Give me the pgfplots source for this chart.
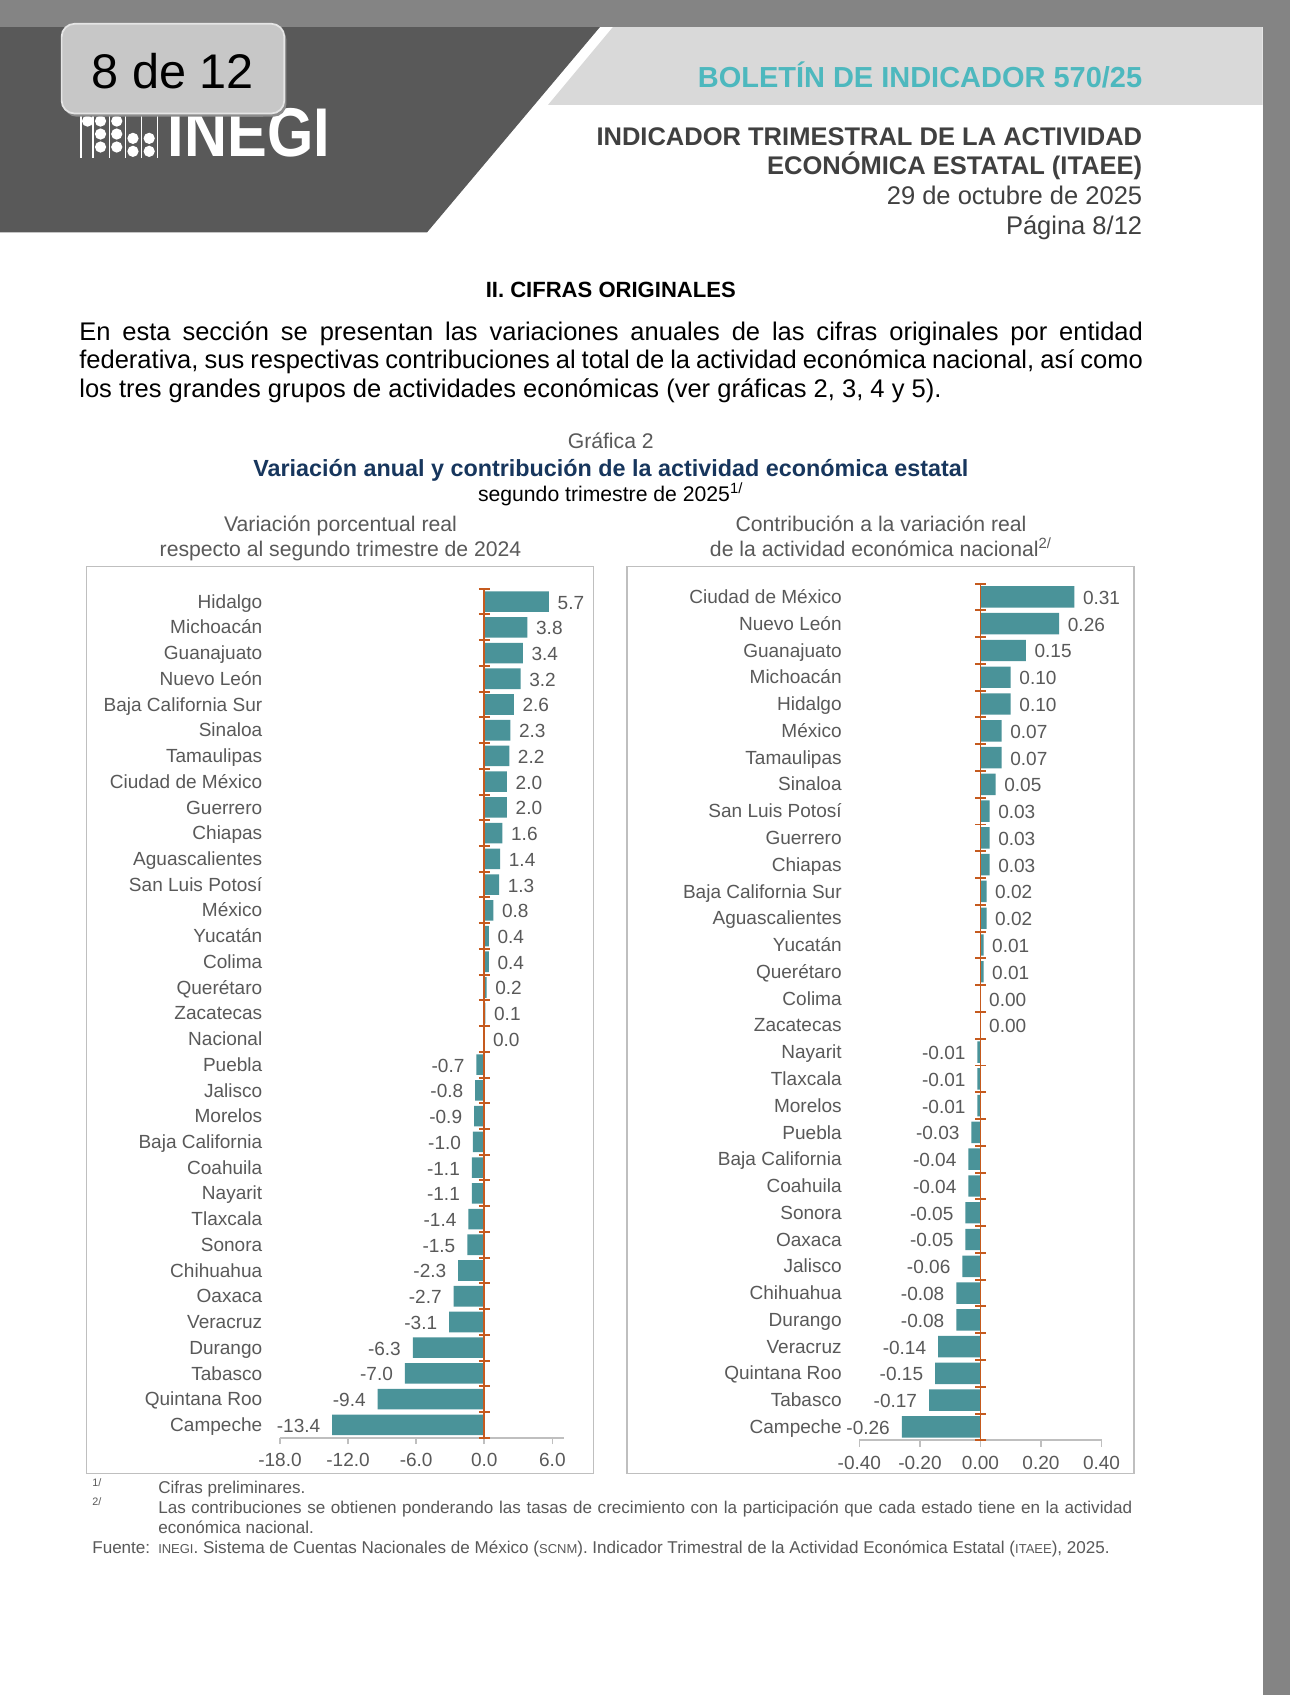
\documentclass[border=0pt]{standalone}
\usepackage{fontspec}
\setmainfont{Liberation Sans}
\usepackage{pgfplots}
\pgfplotsset{compat=1.18}

\definecolor{barteal}{RGB}{74,147,153}
\definecolor{axorange}{RGB}{197,90,30}
\definecolor{axgray}{RGB}{191,191,191}
\definecolor{labgray}{RGB}{89,89,89}
\definecolor{titlenavy}{RGB}{23,54,93}
\definecolor{headteal}{RGB}{77,184,190}
\definecolor{headdark}{RGB}{89,89,89}
\definecolor{headlight}{RGB}{217,217,217}
\definecolor{pagegray}{RGB}{132,132,132}
\definecolor{textdark}{RGB}{64,64,64}

\newcommand\fs[2]{\fontsize{#1}{#2}\selectfont}

\begin{document}
\begin{tikzpicture}
\useasboundingbox (0,0) rectangle (596.5pt,-784pt);

\begin{scope}[x=0.5pt,y=-0.5pt]
  % page and header
  \fill[pagegray] (0,0) rectangle (1193,1568);
  \fill[white] (0,25) rectangle (1168,1568);
  \fill[headdark] (0,25) -- (555,25) -- (395,215) -- (0,215) -- cycle;
  \fill[headlight] (567,25) -- (1168,25) -- (1168,97) -- (507,97) -- cycle;

  % logo
  \foreach \lx in {75,86,101,116,131,146}
    \draw[white, line width=0.6pt] (\lx,104) -- (\lx,146);
  \foreach \cx/\cy in {81/112,93/112,108/112,93/124,108/124,93/136,108/136,123/128,138/128,123/140,138/140}
    \fill[white] (\cx,\cy) circle (2.6pt);
  \node[anchor=base west, inner sep=0, text=white, font=\fs{29}{30}\bfseries, xscale=0.95, yscale=1.1] at (155,145) {INEGI};

  % page badge
  \fill[black!45, rounded corners=6pt] (59,25) rectangle (265,108);
  \fill[black!22, draw=black!10, line width=0.8pt, rounded corners=6pt] (57,22) rectangle (263,105);
  \node[font=\fs{22.5}{24}, text=black] at (160,66) {8 de 12};

  \node[anchor=base east, inner sep=0, text=headteal, font=\fs{13.4}{15}\bfseries] at (1057,81) {BOLETÍN DE INDICADOR 570/25};
  \node[anchor=base east, inner sep=0, text=textdark, font=\fs{11.8}{13}\bfseries] at (1057,134.5) {INDICADOR TRIMESTRAL DE LA ACTIVIDAD};
  \node[anchor=base east, inner sep=0, text=textdark, font=\fs{11.8}{13}\bfseries] at (1057,161.5) {ECONÓMICA ESTATAL (ITAEE)};
  \node[anchor=base east, inner sep=0, text=textdark, font=\fs{11.8}{13}] at (1057,189.5) {29 de octubre de 2025};
  \node[anchor=base east, inner sep=0, text=textdark, font=\fs{11.8}{13}] at (1057,216.5) {Página 8/12};

  % section text
  \node[anchor=base, inner sep=0, font=\fs{10.2}{12}\bfseries] at (565,275) {II. CIFRAS ORIGINALES};
  \node[anchor=base west, inner sep=0, font=\fs{11.8}{13}] at (73,315)
    {\makebox[492pt][s]{En esta sección se presentan las variaciones anuales de las cifras originales por entidad}};
  \node[anchor=base west, inner sep=0, font=\fs{11.8}{13}] at (73,341)
    {\makebox[492pt][s]{federativa, sus respectivas contribuciones al total de la actividad económica nacional, así como}};
  \node[anchor=base west, inner sep=0, font=\fs{11.8}{13}] at (73,368)
    {los tres grandes grupos de actividades económicas (ver gráficas 2, 3, 4 y 5).};

  % chart titles
  \node[anchor=base, inner sep=0, text=labgray, font=\fs{9.8}{11}] at (565,415) {Gráfica 2};
  \node[anchor=base, inner sep=0, text=titlenavy, font=\fs{10.8}{12}\bfseries] at (565,441)
    {Variación anual y contribución de la actividad económica estatal};
  \node[anchor=base, inner sep=0, font=\fs{9.8}{11}] at (565,464) {segundo trimestre de 2025\textsuperscript{1/}};
  \node[anchor=base, inner sep=0, text=labgray, font=\fs{9.8}{11}] at (315,492) {Variación porcentual real};
  \node[anchor=base, inner sep=0, text=labgray, font=\fs{9.8}{11}] at (315,515) {respecto al segundo trimestre de 2024};
  \node[anchor=base, inner sep=0, text=labgray, font=\fs{9.8}{11}] at (815,492) {Contribución a la variación real};
  \node[anchor=base, inner sep=0, text=labgray, font=\fs{9.8}{11}] at (815,515) {de la actividad económica nacional\textsuperscript{2/}};

  % panel frames
  \draw[axgray, line width=0.6pt] (80,524) rectangle (549,1363);
  \draw[axgray, line width=0.6pt] (580,524) rectangle (1049,1363);

  % notes
  \node[anchor=base west, inner sep=0, text=labgray, font=\fs{5}{6}] at (85,1375) {1/};
  \node[anchor=base west, inner sep=0, text=labgray, font=\fs{7.9}{9}] at (146,1382) {Cifras preliminares.};
  \node[anchor=base west, inner sep=0, text=labgray, font=\fs{5}{6}] at (85,1393) {2/};
  \node[anchor=base west, inner sep=0, text=labgray, font=\fs{7.9}{9}] at (146,1400)
    {\makebox[450.5pt][s]{Las contribuciones se obtienen ponderando las tasas de crecimiento con la participación que cada estado tiene en la actividad}};
  \node[anchor=base west, inner sep=0, text=labgray, font=\fs{7.9}{9}] at (146,1419) {económica nacional.};
  \node[anchor=base west, inner sep=0, text=labgray, font=\fs{7.9}{9}] at (85,1437) {Fuente:};
  \node[anchor=base west, inner sep=0, text=labgray, font=\fs{7.9}{9}] at (146,1437)
    {{\fs{6}{7}INEGI}. Sistema de Cuentas Nacionales de México ({\fs{6}{7}SCNM}). Indicador Trimestral de la Actividad Económica Estatal ({\fs{6}{7}ITAEE}), 2025.};
\end{scope}

\pgfplotsset{
  panel/.style={
    scale only axis, anchor=south west, clip=false,
    axis x line*=bottom, axis y line*=left,
    x axis line style={-, draw=axgray, line width=0.8pt},
    y axis line style={draw=none},
    tick align=outside, major tick length=3pt,
    xtick style={draw=axgray, line width=0.8pt},
    ytick style={draw=none},
    tick label style={font=\fs{8.8}{10}, text=labgray},
    xticklabel style={inner sep=0pt, yshift=-4pt},
    yticklabel style={inner sep=0pt, xshift=-5pt, yshift=-0.8pt, text height=6.4pt, text depth=1.9pt},
    point meta=x,
    every node near coord/.append style={font=\fs{8.8}{10}, text=labgray, text height=6.4pt, text depth=1.9pt, yshift=-1.2pt},
  },
  posbar/.style={xbar, bar shift=0pt, bar width=0.8, fill=barteal, draw=none,
    nodes near coords={\pgfmathprintnumber[fixed,fixed zerofill,precision=#1,assume math mode=true]{\pgfplotspointmeta}},
    nodes near coords style={anchor=west, xshift=0.5pt}},
  negbar/.style={xbar, bar shift=0pt, bar width=0.8, fill=barteal, draw=none,
    nodes near coords={\pgfmathprintnumber[fixed,fixed zerofill,precision=#1,assume math mode=true]{\pgfplotspointmeta}},
    nodes near coords style={anchor=east, xshift=-2pt}},
}

% left panel: annual variation
\begin{axis}[panel,
  at={(129.5pt,-665pt)}, width=131.25pt, height=392.7pt,
  xmin=-18, xmax=7, ymin=-0.5, ymax=32.5,
  xtick={-18,-12,-6,0,6},
  xticklabel style={/pgf/number format/.cd, fixed, fixed zerofill, precision=1, assume math mode=true},
  ytick={0,...,32},
  yticklabels={Campeche,Quintana Roo,Tabasco,Durango,Veracruz,Oaxaca,Chihuahua,Sonora,Tlaxcala,Nayarit,Coahuila,Baja California,Morelos,Jalisco,Puebla,Nacional,Zacatecas,Querétaro,Colima,Yucatán,México,San Luis Potosí,Aguascalientes,Chiapas,Guerrero,Ciudad de México,Tamaulipas,Sinaloa,Baja California Sur,Nuevo León,Guanajuato,Michoacán,Hidalgo},
]
\addplot[posbar=1] coordinates {
  (5.7,32) (3.8,31) (3.4,30) (3.2,29) (2.6,28) (2.3,27) (2.2,26) (2.0,25) (2.0,24)
  (1.6,23) (1.4,22) (1.3,21) (0.8,20) (0.4,19) (0.4,18) (0.2,17) (0.1,16) (0.0,15)
};
\addplot[negbar=1] coordinates {
  (-0.7,14) (-0.8,13) (-0.9,12) (-1.0,11) (-1.1,10) (-1.1,9) (-1.4,8) (-1.5,7)
  (-2.3,6) (-2.7,5) (-3.1,4) (-6.3,3) (-7.0,2) (-9.4,1) (-13.4,0)
};
\draw[axorange, line width=0.9pt] (axis cs:0,-0.5) -- (axis cs:0,32.5);
\pgfplotsinvokeforeach{0,...,33}{
  \draw[axorange, line width=0.9pt] (axis cs:0,#1-0.5) ++(-2.5pt,0pt) -- ++(5pt,0pt);
}
\end{axis}

% right panel: contribution
\begin{axis}[panel,
  at={(397.5pt,-666.2pt)}, width=112pt, height=396.3pt,
  xmin=-0.4, xmax=0.4, ymin=-0.5, ymax=31.5,
  xtick={-0.4,-0.2,0,0.2,0.4},
  scaled x ticks=false,
  xticklabel style={/pgf/number format/.cd, fixed, fixed zerofill, precision=2, assume math mode=true},
  ytick={0,...,31},
  yticklabels={Campeche,Tabasco,Quintana Roo,Veracruz,Durango,Chihuahua,Jalisco,Oaxaca,Sonora,Coahuila,Baja California,Puebla,Morelos,Tlaxcala,Nayarit,Zacatecas,Colima,Querétaro,Yucatán,Aguascalientes,Baja California Sur,Chiapas,Guerrero,San Luis Potosí,Sinaloa,Tamaulipas,México,Hidalgo,Michoacán,Guanajuato,Nuevo León,Ciudad de México},
]
\addplot[posbar=2] coordinates {
  (0.31,31) (0.26,30) (0.15,29) (0.10,28) (0.10,27) (0.07,26) (0.07,25) (0.05,24)
  (0.03,23) (0.03,22) (0.03,21) (0.02,20) (0.02,19) (0.01,18) (0.01,17) (0.00,16) (0.00,15)
};
\addplot[negbar=2] coordinates {
  (-0.01,14) (-0.01,13) (-0.01,12) (-0.03,11) (-0.04,10) (-0.04,9) (-0.05,8) (-0.05,7)
  (-0.06,6) (-0.08,5) (-0.08,4) (-0.14,3) (-0.15,2) (-0.17,1) (-0.26,0)
};
\draw[axorange, line width=0.9pt] (axis cs:0,-0.5) -- (axis cs:0,31.5);
\pgfplotsinvokeforeach{0,...,32}{
  \draw[axorange, line width=0.9pt] (axis cs:0,#1-0.5) ++(-2.5pt,0pt) -- ++(5pt,0pt);
}
\end{axis}
\end{tikzpicture}
\end{document}
